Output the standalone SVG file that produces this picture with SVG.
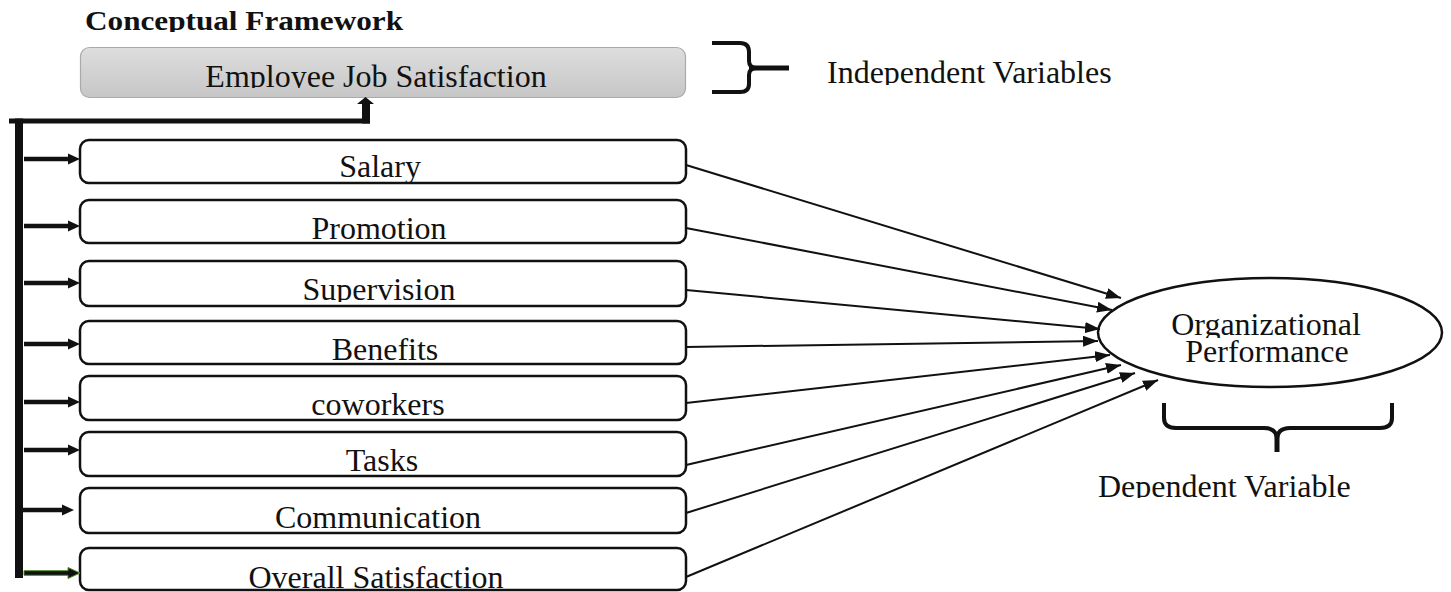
<svg xmlns="http://www.w3.org/2000/svg" width="1451" height="592" viewBox="0 0 1451 592">
<style>
.t{font-family:"Liberation Serif","Times New Roman",serif;font-size:32px;fill:#111;text-anchor:middle}
.title{font-family:"Liberation Serif","Times New Roman",serif;font-size:28px;font-weight:bold;fill:#111}
.lbl{font-family:"Liberation Serif","Times New Roman",serif;font-size:32px;fill:#111}
.box{fill:#fff;stroke:#111;stroke-width:2.5}
.conn{stroke:#111;stroke-width:2;fill:none}
.brace{stroke:#111;stroke-width:4;fill:none}
</style>
<defs>
<linearGradient id="g" x1="0" y1="0" x2="0" y2="1">
<stop offset="0" stop-color="#dedede"/>
<stop offset="1" stop-color="#c6c6c6"/>
</linearGradient>
<marker id="ah" markerUnits="userSpaceOnUse" markerWidth="15" markerHeight="11" refX="15" refY="5.5" orient="auto">
<path d="M0,0 L15,5.5 L0,11 Z" fill="#111"/>
</marker>
<path id="sa" d="M0,-2.3 H44 V-5.5 L56,0 L44,5.5 V2.3 H0 Z"/>
<clipPath id="cTitle"><rect x="0" y="0" width="600" height="32"/></clipPath>
<clipPath id="cEmp"><rect x="80" y="47" width="606" height="41"/></clipPath>
<clipPath id="cSal"><rect x="80" y="140" width="606" height="42"/></clipPath>
<clipPath id="cSup"><rect x="80" y="261" width="606" height="41"/></clipPath>
<clipPath id="cInd"><rect x="800" y="40" width="400" height="45"/></clipPath>
<clipPath id="cOrg"><rect x="1100" y="300" width="340" height="38"/></clipPath>
<clipPath id="cDep"><rect x="1080" y="460" width="340" height="38"/></clipPath>
</defs>

<text class="title" x="85" y="30" textLength="318" lengthAdjust="spacingAndGlyphs" clip-path="url(#cTitle)">Conceptual Framework</text>

<g id="node-ejs">
<rect x="80.5" y="47.5" width="605" height="50" rx="9" fill="url(#g)" stroke="#aaa" stroke-width="1.2"/>
<text class="t" x="376" y="87" clip-path="url(#cEmp)">Employee Job Satisfaction</text>
</g>

<g id="brace-independent">
<path class="brace" d="M712,43 H740 Q749,43 749,52 V61 Q749,68 757,68 Q749,68 749,75 V84 Q749,92 740,92 H712"/>
<path d="M749,68 H789" stroke="#111" stroke-width="5"/>
<text class="lbl" x="827" y="83" clip-path="url(#cInd)">Independent Variables</text>
</g>

<g id="node-salary"><rect class="box" x="80" y="140" width="606" height="43" rx="9"/><text class="t" x="380" y="177" clip-path="url(#cSal)">Salary</text></g>
<g id="node-promotion"><rect class="box" x="80" y="200" width="606" height="43" rx="9"/><text class="t" x="379" y="239">Promotion</text></g>
<g id="node-supervision"><rect class="box" x="80" y="261" width="606" height="45" rx="9"/><text class="t" x="379" y="300" clip-path="url(#cSup)">Supervision</text></g>
<g id="node-benefits"><rect class="box" x="80" y="321" width="606" height="43" rx="9"/><text class="t" x="385" y="360">Benefits</text></g>
<g id="node-coworkers"><rect class="box" x="80" y="376" width="606" height="44" rx="9"/><text class="t" x="378" y="415">coworkers</text></g>
<g id="node-tasks"><rect class="box" x="80" y="432" width="606" height="44" rx="9"/><text class="t" x="382" y="471">Tasks</text></g>
<g id="node-communication"><rect class="box" x="80" y="488" width="606" height="45" rx="9"/><text class="t" x="378" y="528">Communication</text></g>
<g id="node-overall"><rect class="box" x="80" y="548" width="606" height="42" rx="9"/><text class="t" x="376" y="588">Overall Satisfaction</text></g>

<g id="node-performance">
<ellipse cx="1270" cy="332.5" rx="172" ry="54.5" fill="#fff" stroke="#111" stroke-width="2.5"/>
<text class="t" x="1266" y="335" clip-path="url(#cOrg)">Organizational</text>
<text class="t" x="1267" y="362">Performance</text>
</g>

<g id="brace-dependent">
<path class="brace" d="M1164,403 V418 Q1164,428 1176,428 H1264 Q1277,428 1277,440 Q1277,428 1290,428 H1380 Q1392,428 1392,418 V403"/>
<path d="M1277,432 V452" stroke="#111" stroke-width="5"/>
<text class="lbl" x="1098" y="497" clip-path="url(#cDep)">Dependent Variable</text>
</g>

<g id="connectors">
<rect x="15" y="118.5" width="8" height="459.5" fill="#111"/>
<rect x="9" y="118.5" width="361" height="5" fill="#111"/>
<path d="M362,123.5 V104 H357 L365.5,97 L374,104 H370 V123.5 Z" fill="#111"/>
<use href="#sa" x="24" y="159" fill="#111"/>
<use href="#sa" x="24" y="226" fill="#111"/>
<use href="#sa" x="24" y="283" fill="#111"/>
<use href="#sa" x="24" y="344" fill="#111"/>
<use href="#sa" x="24" y="402" fill="#111"/>
<use href="#sa" x="24" y="450" fill="#111"/>
<use href="#sa" x="18" y="510" fill="#111"/>
<use href="#sa" x="24" y="573" fill="#111" stroke="#4e8a2e" stroke-width="1"/>
<line class="conn" x1="686" y1="165" x2="1121" y2="298" marker-end="url(#ah)"/>
<line class="conn" x1="686" y1="228" x2="1112" y2="310" marker-end="url(#ah)"/>
<line class="conn" x1="686" y1="290" x2="1100" y2="329" marker-end="url(#ah)"/>
<line class="conn" x1="686" y1="347" x2="1098" y2="341" marker-end="url(#ah)"/>
<line class="conn" x1="686" y1="403" x2="1110" y2="355" marker-end="url(#ah)"/>
<line class="conn" x1="686" y1="465" x2="1121" y2="365" marker-end="url(#ah)"/>
<line class="conn" x1="686" y1="513" x2="1135" y2="373" marker-end="url(#ah)"/>
<line class="conn" x1="686" y1="577" x2="1158" y2="380" marker-end="url(#ah)"/>
</g>
</svg>
